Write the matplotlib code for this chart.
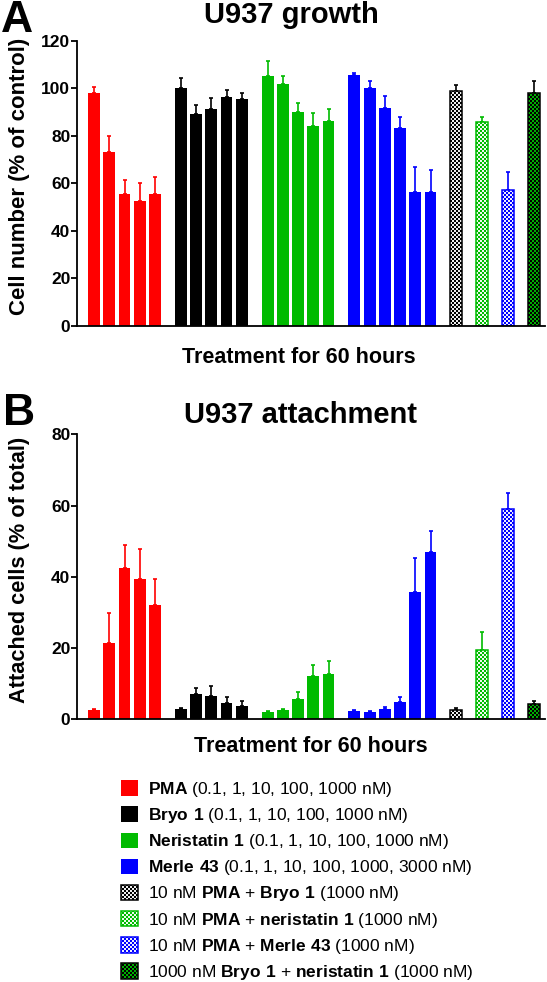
import numpy as np
import matplotlib
matplotlib.use('Agg')
import matplotlib.pyplot as plt
import matplotlib.hatch as mhatch
from matplotlib.patches import Patch

# ---------------- data ----------------
single_names = ['PMA', 'Bryo 1', 'Neristatin 1', 'Merle 43']
single_doses = ['0.1, 1, 10, 100, 1000 nM', '0.1, 1, 10, 100, 1000 nM',
                '0.1, 1, 10, 100, 1000 nM', '0.1, 1, 10, 100, 1000, 3000 nM']
combo_first = ['10 nM PMA', '10 nM PMA', '10 nM PMA', '1000 nM Bryo 1']
combo_second = ['Bryo 1', 'neristatin 1', 'Merle 43', 'neristatin 1']

growth_pma = [97.9, 73.0, 55.5, 52.6, 55.5]
growth_pma_err = [2.8, 7.0, 5.9, 7.4, 7.2]
growth_bryo = [100.2, 89.3, 91.3, 96.2, 95.4]
growth_bryo_err = [4.0, 3.6, 4.8, 3.0, 2.4]
growth_neri = [105.0, 101.6, 90.2, 84.1, 86.4]
growth_neri_err = [6.6, 3.4, 3.4, 5.6, 4.8]
growth_merle = [105.6, 100.0, 91.5, 83.4, 56.2, 56.2]
growth_merle_err = [0.8, 3.1, 5.3, 4.6, 10.5, 9.4]
growth_combo = [98.9, 85.6, 57.2, 97.9]
growth_combo_err = [2.3, 2.3, 7.7, 5.2]

attach_pma = [2.6, 21.3, 42.5, 39.3, 32.1]
attach_pma_err = [0.3, 8.4, 6.4, 8.4, 7.4]
attach_bryo = [2.8, 7.2, 6.6, 4.6, 3.6]
attach_bryo_err = [0.3, 1.5, 2.7, 1.6, 1.4]
attach_neri = [2.1, 2.5, 5.6, 12.2, 12.6]
attach_neri_err = [0.2, 0.3, 2.1, 3.0, 3.8]
attach_merle = [2.4, 2.0, 2.9, 4.8, 35.7, 47.0]
attach_merle_err = [0.3, 0.3, 0.5, 1.4, 9.7, 5.8]
attach_combo = [2.7, 19.5, 59.0, 4.4]
attach_combo_err = [0.4, 5.0, 4.6, 0.6]

# ---------------- styles ----------------
RED, BLACK, GREEN, BLUE = '#FF0000', '#000000', '#00BB00', '#0000FF'
single_colors = [RED, BLACK, GREEN, BLUE]
combo_face = ['white', 'white', 'white', GREEN]
combo_edge = [BLACK, GREEN, BLUE, BLACK]

FONT = 'Liberation Sans'
plt.rcParams['font.family'] = [FONT, 'DejaVu Sans']
plt.rcParams['mathtext.fontset'] = 'custom'
plt.rcParams['mathtext.rm'] = FONT
plt.rcParams['mathtext.bf'] = FONT + ':bold'
plt.rcParams['hatch.linewidth'] = 0.05


# checkerboard hatch (replaces the '*' star pattern)
class CheckerHatch(mhatch.HatchPatternBase):
    def __init__(self, hatch, density):
        self.n = 50 if '*' in hatch else 0
        self.num_vertices = (self.n * self.n // 2) * 5

    def set_vertices_and_codes(self, vertices, codes):
        n = self.n
        k = 0
        for i in range(n):
            for j in range(n):
                if (i + j) % 2 == 0:
                    x0, y0, x1, y1 = i / n, j / n, (i + 1) / n, (j + 1) / n
                    vertices[k:k + 5] = [(x0, y0), (x1, y0), (x1, y1), (x0, y1), (x0, y0)]
                    codes[k:k + 5] = [1, 2, 2, 2, 79]
                    k += 5


mhatch._hatch_types = [c for c in mhatch._hatch_types if c is not mhatch.Stars] + [CheckerHatch]

W, H = 547, 982
fig = plt.figure(figsize=(W / 100, H / 100), dpi=100)


def fx(px):
    return px / W


def fy(py):
    return 1 - py / H


def positions(sizes, gap=1.7):
    out, start = [], 0.0
    for n in sizes:
        out.append(start + np.arange(n))
        start = start + n - 1 + gap
    return out


def draw_panel(ax, singles, single_errs, combo, combo_err, ymax):
    sizes = [len(s) for s in singles] + [1] * len(combo)
    pos = positions(sizes)
    bw = 0.78
    ekw = dict(fmt='none', capsize=1.6, elinewidth=1.2, capthick=1.2, zorder=1)
    for g, (vals, errs) in enumerate(zip(singles, single_errs)):
        c = single_colors[g]
        ax.bar(pos[g], vals, width=bw, color=c, edgecolor=c, linewidth=0, zorder=2)
        ax.errorbar(pos[g], vals, yerr=[np.zeros(len(errs)), errs], ecolor=c, **ekw)
    for k in range(len(combo)):
        x = pos[len(singles) + k]
        ax.bar(x, [combo[k]], width=bw, color=combo_face[k], edgecolor=combo_edge[k],
               linewidth=1.1, hatch='*', zorder=2)
        ax.errorbar(x, [combo[k]], yerr=[[0], [combo_err[k]]], ecolor=combo_edge[k], **ekw)
    ax.set_xlim(-1.12, 29.62)
    ax.set_ylim(0, ymax)
    for s in ['top', 'right']:
        ax.spines[s].set_visible(False)
    for s in ['left', 'bottom']:
        ax.spines[s].set_linewidth(1.3)
    ax.set_xticks([])
    ax.set_yticks(np.arange(0, ymax + 1, 20))
    ax.tick_params(axis='y', direction='out', length=4, width=1.3, pad=0.8,
                   labelsize=12.5)
    for lab in ax.get_yticklabels():
        lab.set_fontweight('bold')


axA = fig.add_axes([fx(77), fy(326), fx(468), 285.3 / H])
draw_panel(axA,
           [growth_pma, growth_bryo, growth_neri, growth_merle],
           [growth_pma_err, growth_bryo_err, growth_neri_err, growth_merle_err],
           growth_combo, growth_combo_err, 120)

axB = fig.add_axes([fx(77), fy(719.3), fx(468), 285 / H])
draw_panel(axB,
           [attach_pma, attach_bryo, attach_neri, attach_merle],
           [attach_pma_err, attach_bryo_err, attach_neri_err, attach_merle_err],
           attach_combo, attach_combo_err, 80)

# texts
bold = dict(fontweight='bold', color='black')
fig.text(fx(1), fy(21), 'A', fontsize=32, ha='left', va='center', **bold)
fig.text(fx(3), fy(414), 'B', fontsize=32, ha='left', va='center', **bold)
fig.text(fx(291), fy(23), 'U937 growth', fontsize=21, ha='center', va='baseline', **bold)
fig.text(fx(300), fy(423), 'U937 attachment', fontsize=21, ha='center', va='baseline', **bold)
fig.text(fx(299), fy(363), 'Treatment for 60 hours', fontsize=15.5, ha='center', va='baseline', **bold)
fig.text(fx(311), fy(752), 'Treatment for 60 hours', fontsize=15.5, ha='center', va='baseline', **bold)
fig.text(fx(20), fy(176), 'Cell number (% of control)', fontsize=16, rotation=90,
         ha='center', va='center', **bold)
fig.text(fx(20), fy(570), 'Attached cells (% of total)', fontsize=15.7, rotation=90,
         ha='center', va='center', **bold)


# legend
def bf(s):
    return r'$\mathbf{' + s.replace(' ', r'\ ') + '}$'


handles, labels = [], []
for name, dose, c in zip(single_names, single_doses, single_colors):
    handles.append(Patch(facecolor=c, edgecolor=c, linewidth=0))
    labels.append(bf(name) + ' (' + dose + ')')
for k, (a, b) in enumerate(zip(combo_first, combo_second)):
    handles.append(Patch(facecolor=combo_face[k], edgecolor=combo_edge[k],
                         linewidth=1.1, hatch='*'))
    conc, drug = a.split(' nM ')
    labels.append(conc + ' nM ' + bf(drug) + ' + ' + bf(b) + ' (1000 nM)')

fig.legend(handles, labels, loc='upper left', bbox_to_anchor=(fx(121), fy(780)),
           frameon=False, fontsize=12.5, handlelength=1.0, handleheight=1.0,
           handletextpad=0.55, labelspacing=0.41, borderpad=0, borderaxespad=0)

fig.savefig('out.png', dpi=100)
